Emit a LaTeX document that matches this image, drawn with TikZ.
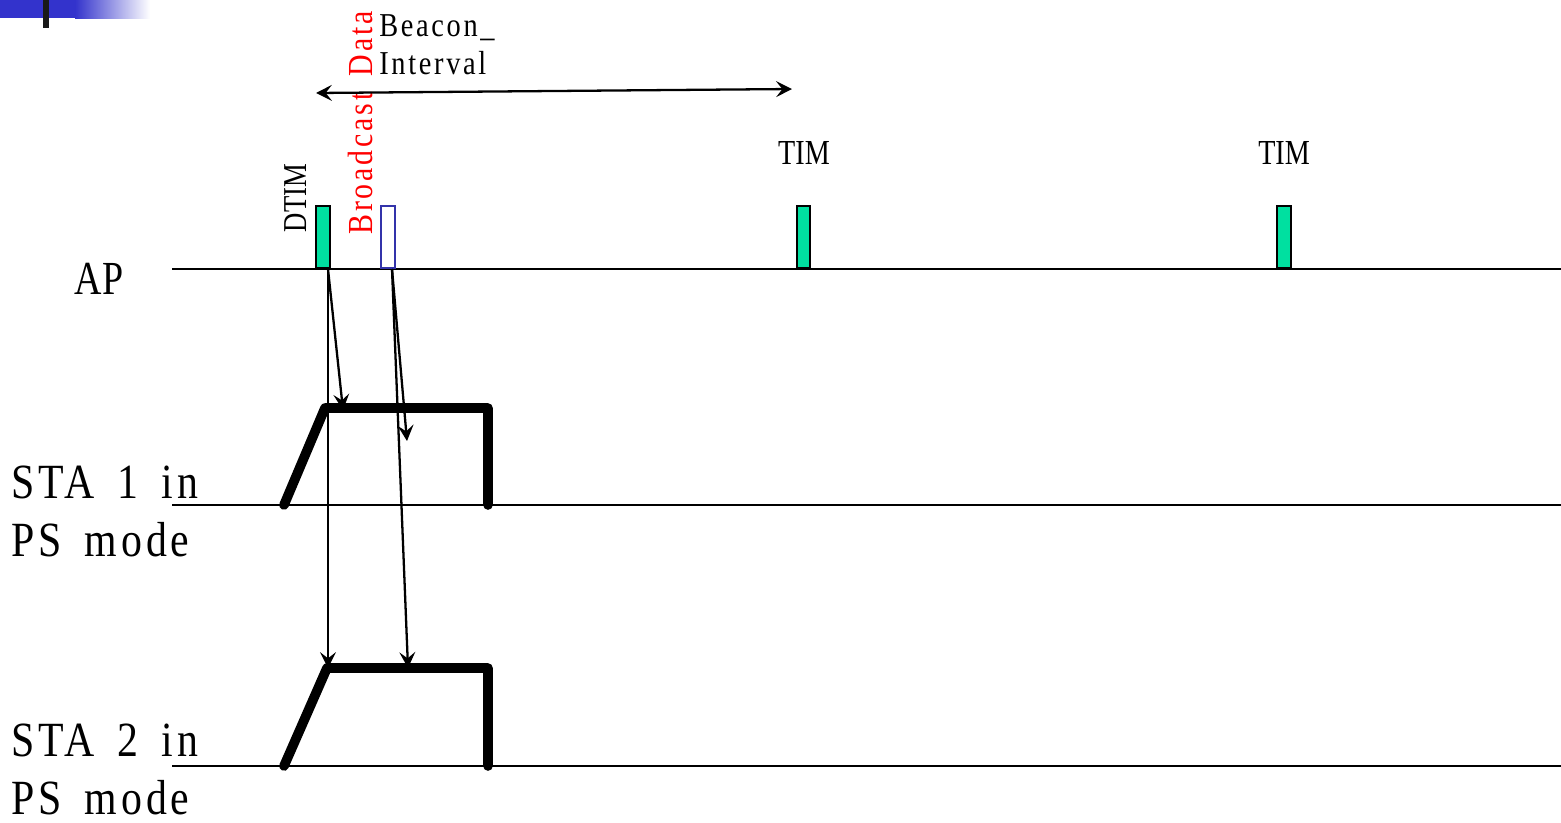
\documentclass[tikz,border=0pt]{standalone}
\usepackage{fontspec}
\setmainfont{Liberation Serif}
\newfontfamily\capsfont[FakeStretch=0.8]{Liberation Serif}
\newfontfamily\spacedfont[FakeStretch=0.85,LetterSpace=8,WordSpace=1.6]{Liberation Serif}
\usetikzlibrary{arrows.meta}

\definecolor{beaconfill}{RGB}{0,224,160}
\definecolor{bcastblue}{RGB}{51,51,170}
\definecolor{barblue}{RGB}{51,51,204}

\tikzset{
  timeline/.style={line width=1.4pt},
  frame/.style={draw, line width=1.3pt, minimum width=0.27cm, minimum height=1.24cm, inner sep=0pt, anchor=south},
  awake/.style={line width=5.5pt, line join=round, line cap=round},
  msg/.style={line width=1.3pt, -{Stealth[length=9pt,width=9pt,inset=3.5pt]}},
  lbl/.style={inner sep=0pt, font=\capsfont\fontsize{20}{24}\selectfont},
}

\begin{document}
\begin{tikzpicture}[x=0.02cm,y=-0.02cm]
    \useasboundingbox (0,0) rectangle (1561,822);

    % title bar
    \fill[barblue] (0,0) rectangle (76,18);
    \shade[left color=barblue, right color=white] (75,0) rectangle (150,18);
    \fill[black!90] (43,0) rectangle (49,28);

    % time lines
    \coordinate (apL) at (172,269);   \coordinate (apR) at (1561,269);
    \coordinate (s1L) at (172,505);   \coordinate (s1R) at (1561,505);
    \coordinate (s2L) at (172,766);   \coordinate (s2R) at (1561,766);
    \draw[timeline] (apL) -- (apR);
    \draw[timeline] (s1L) -- (s1R);
    \draw[timeline] (s2L) -- (s2R);

    \node[lbl, font=\capsfont\fontsize{27}{30}\selectfont] (ap) at (99,279) {AP};
    \node[lbl, font=\spacedfont\fontsize{28}{33}\selectfont, align=left, anchor=west] (sta1) at (11,511) {STA 1 in\\PS mode};
    \node[lbl, font=\spacedfont\fontsize{28}{33}\selectfont, align=left, anchor=west] (sta2) at (11,769) {STA 2 in\\PS mode};

    % beacon frames
    \node[frame, fill=beaconfill] (dtim) at (323,269) {};
    \node[frame, draw=bcastblue, fill=white] (bcast) at (388,269) {};
    \node[frame, fill=beaconfill] (tim1) at (803.5,269) {};
    \node[frame, fill=beaconfill] (tim2) at (1284,269) {};

    \node[lbl, font=\capsfont\fontsize{19}{22}\selectfont, rotate=90] (dtimlbl) at (296,198) {DTIM};
    \node[lbl, font=\spacedfont\fontsize{20}{24}\selectfont, red, rotate=90] (bcastlbl) at (360,123) {Broadcast Data};
    \node[lbl] (timlbl1) at (804,153) {TIM};
    \node[lbl] (timlbl2) at (1284,153) {TIM};
    \node[lbl, font=\spacedfont\fontsize{19}{21.5}\selectfont, align=left, anchor=west] (bi) at (379,45) {Beacon\_\\ Interval};

    \coordinate (biL) at (316,93);
    \coordinate (biR) at (792,89);
    \draw[line width=1.3pt, {Stealth[length=9pt,width=9pt,inset=3.5pt]}-{Stealth[length=9pt,width=9pt,inset=3.5pt]}] (biL) -- (biR);

    % awake periods
    \coordinate (s1a) at (284,505); \coordinate (s1b) at (325,408);
    \coordinate (s1c) at (488,408); \coordinate (s1d) at (488,505);
    \coordinate (s2a) at (284,766); \coordinate (s2b) at (327,668);
    \coordinate (s2c) at (488,668); \coordinate (s2d) at (488,766);
    \draw[awake] (s1a) -- (s1b) -- (s1c) -- (s1d);
    \draw[awake] (s2a) -- (s2b) -- (s2c) -- (s2d);

    % frames received
    \coordinate (dsrc) at (328,269);
    \coordinate (bsrc) at (392,269);
    \coordinate (d1) at (343,410);
    \coordinate (d2) at (328,668);
    \coordinate (b1) at (407,441);
    \coordinate (b2) at (408,668);
    \draw[msg] (dsrc) -- (d1);
    \draw[msg] (dsrc) -- (d2);
    \draw[msg] (bsrc) -- (b1);
    \draw[msg] (bsrc) -- (b2);

\end{tikzpicture}
\end{document}
